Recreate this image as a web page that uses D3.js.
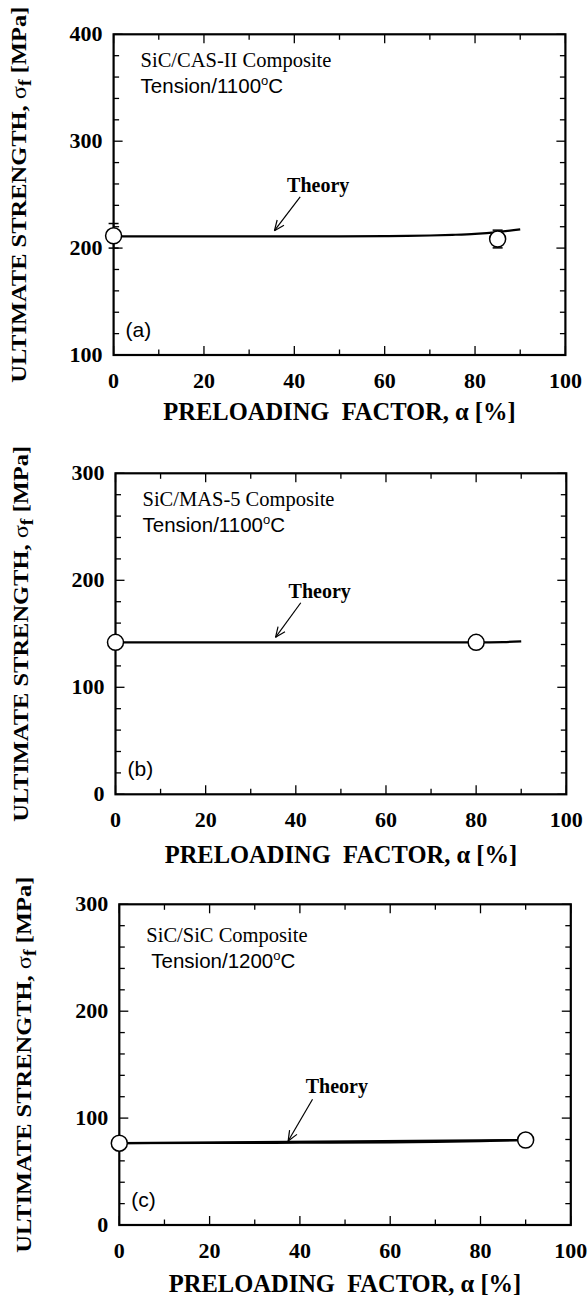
<!DOCTYPE html>
<html>
<head>
<meta charset="utf-8">
<script src="https://cdn.jsdelivr.net/npm/d3@7"></script>
<style>
  html, body { margin: 0; padding: 0; background: #fff; }
  svg { display: block; }
  text { white-space: pre; }
</style>
</head>
<body>
<div id="chart"></div>
<script>
// x axis (preloading factor, %)
const xTicks = [0, 20, 40, 60, 80, 100];

// (a) SiC/CAS-II
const aPreload = [0, 85];
const aStrength = [211.5, 208.5];
const aError = [11.5, 8.3];
const aTheoryX = [0, 10, 20, 30, 40, 50, 60, 65, 70, 75, 80, 85, 90];
const aTheoryY = [211, 211, 211, 211, 211, 211, 211.2, 211.4, 211.8, 212.4, 213.3, 215, 217.6];
const aYTicks = [100, 200, 300, 400];

// (b) SiC/MAS-5
const bPreload = [0, 80];
const bStrength = [142, 142];
const bError = [0, 0];
const bTheoryX = [0, 20, 40, 60, 80, 86, 90];
const bTheoryY = [142, 142, 142, 142, 142, 142.3, 143];
const bYTicks = [0, 100, 200, 300];

// (c) SiC/SiC
const cPreload = [0, 90];
const cStrength = [76.5, 79.5];
const cError = [0, 0];
const cTheoryX = [0, 20, 40, 60, 70, 80, 90];
const cTheoryY = [76.5, 76.7, 77, 77.3, 77.7, 78.4, 79.5];
const cLineX = [0, 90];
const cLineY = [76.5, 79.5];
const cYTicks = [0, 100, 200, 300];

const composites = ["SiC/CAS-II Composite", "SiC/MAS-5 Composite", "SiC/SiC Composite"];
const temperatures = ["1100", "1100", "1200"];
const panelTags = ["(a)", "(b)", "(c)"];
// "Theory" label and arrow [x, y] in data units
const theoryLabel = [[38.4, 252.8], [38.4, 183.2], [41.3, 123.2]];
const arrowTail = [[41.3, 248], [41.1, 179], [42.8, 117.6]];
const arrowTip = [[35.6, 216.3], [35.5, 146.7], [37.4, 78.6]];

const serif = "'Liberation Serif', 'Times New Roman', serif";
const sans = "'Liberation Sans', Arial, sans-serif";

const svg = d3.select("#chart").append("svg")
  .attr("width", 588)
  .attr("height", 1301);

const panels = [
  { left: 113.6, right: 565.4, top: 34.3, bottom: 355, yDomain: [100, 400], yTicks: aYTicks,
    pre: aPreload, str: aStrength, err: aError, lines: [[aTheoryX, aTheoryY]], xTitleY: 420, tension: 0 },
  { left: 115.5, right: 566.3, top: 473.3, bottom: 794.3, yDomain: [0, 300], yTicks: bYTicks,
    pre: bPreload, str: bStrength, err: bError, lines: [[bTheoryX, bTheoryY]], xTitleY: 863, tension: 0 },
  { left: 119.3, right: 570.8, top: 904.3, bottom: 1225, yDomain: [0, 300], yTicks: cYTicks,
    pre: cPreload, str: cStrength, err: cError, lines: [[cTheoryX, cTheoryY], [cLineX, cLineY]], xTitleY: 1291.5, tension: 5 }
];

panels.forEach((p, i) => drawPanel(p, i));

function drawPanel(p, i) {
  const x = d3.scaleLinear().domain([0, 100]).range([p.left, p.right]);
  const y = d3.scaleLinear().domain(p.yDomain).range([p.bottom, p.top]);
  const g = svg.append("g");

  const yStep = (p.yDomain[1] - p.yDomain[0]) / 15; // minor every 20
  const yMinor = d3.range(p.yDomain[0], p.yDomain[1] + 0.001, yStep);
  const xMinor = d3.range(0, 100.001, 10);
  const major = 9, minor = 5.5;

  // inward ticks on all four sides
  xMinor.forEach(v => {
    const len = xTicks.includes(Math.round(v)) ? major : minor;
    g.append("line").attr("x1", x(v)).attr("x2", x(v)).attr("y1", p.bottom).attr("y2", p.bottom - len)
      .attr("stroke", "#000").attr("stroke-width", 1.3);
    g.append("line").attr("x1", x(v)).attr("x2", x(v)).attr("y1", p.top).attr("y2", p.top + len)
      .attr("stroke", "#000").attr("stroke-width", 1.3);
  });
  yMinor.forEach(v => {
    const len = p.yTicks.some(t => Math.abs(t - v) < 0.01) ? major : minor;
    g.append("line").attr("y1", y(v)).attr("y2", y(v)).attr("x1", p.left).attr("x2", p.left + len)
      .attr("stroke", "#000").attr("stroke-width", 1.3);
    g.append("line").attr("y1", y(v)).attr("y2", y(v)).attr("x1", p.right).attr("x2", p.right - len)
      .attr("stroke", "#000").attr("stroke-width", 1.3);
  });

  g.append("rect")
    .attr("x", p.left).attr("y", p.top)
    .attr("width", p.right - p.left).attr("height", p.bottom - p.top)
    .attr("fill", "none").attr("stroke", "#000").attr("stroke-width", 2.2);

  // tick labels
  g.selectAll(".xl").data(xTicks).enter().append("text")
    .attr("x", d => x(d)).attr("y", p.bottom + 33)
    .attr("text-anchor", "middle")
    .attr("font-family", serif).attr("font-weight", "bold").attr("font-size", 22)
    .text(d => d);
  g.selectAll(".yl").data(p.yTicks).enter().append("text")
    .attr("x", p.left - 11).attr("y", d => y(d) + 7)
    .attr("text-anchor", "end")
    .attr("font-family", serif).attr("font-weight", "bold").attr("font-size", 22)
    .text(d => d);

  // axis titles
  g.append("text")
    .attr("x", (p.left + p.right) / 2).attr("y", p.xTitleY)
    .attr("text-anchor", "middle")
    .attr("font-family", serif).attr("font-weight", "bold").attr("font-size", 24.5)
    .text("PRELOADING  FACTOR, α [%]");

  const yt = g.append("text")
    .attr("transform", `translate(${p.left - 88},${(p.top + p.bottom) / 2}) rotate(-90)`)
    .attr("text-anchor", "middle")
    .attr("font-family", serif).attr("font-weight", "bold").attr("font-size", 22)
    .attr("textLength", 376).attr("lengthAdjust", "spacingAndGlyphs");
  yt.append("tspan").text("ULTIMATE STRENGTH, ");
  yt.append("tspan").attr("font-weight", "normal").text("σ");
  yt.append("tspan").attr("dy", 5).attr("font-size", 18).text("f");
  yt.append("tspan").attr("dy", -5).text(" [MPa]");

  // theory curves
  const line = d3.line().x(d => x(d[0])).y(d => y(d[1])).curve(d3.curveMonotoneX);
  p.lines.forEach(([lx, ly]) => {
    g.append("path")
      .datum(lx.map((v, k) => [v, ly[k]]))
      .attr("d", line)
      .attr("fill", "none").attr("stroke", "#000").attr("stroke-width", 2.2);
  });

  // data points with error bars
  const pts = p.pre.map((v, k) => ({ x: v, y: p.str[k], e: p.err[k] }));
  pts.filter(d => d.e > 0).forEach(d => {
    g.append("line").attr("x1", x(d.x)).attr("x2", x(d.x)).attr("y1", y(d.y - d.e)).attr("y2", y(d.y + d.e))
      .attr("stroke", "#000").attr("stroke-width", 1.5);
    [d.y - d.e, d.y + d.e].forEach(v => {
      g.append("line").attr("x1", x(d.x) - 5).attr("x2", x(d.x) + 5).attr("y1", y(v)).attr("y2", y(v))
        .attr("stroke", "#000").attr("stroke-width", 1.5);
    });
  });
  g.selectAll(".pt").data(pts).enter().append("circle")
    .attr("cx", d => x(d.x)).attr("cy", d => y(d.y)).attr("r", 8)
    .attr("fill", "#fff").attr("stroke", "#000").attr("stroke-width", 1.5);

  // annotations
  g.append("text")
    .attr("x", p.left + 27).attr("y", p.top + 33 + (i === 2 ? 5 : 0))
    .attr("font-family", serif).attr("font-size", 20.5)
    .text(composites[i]);
  const tt = g.append("text")
    .attr("x", p.left + 27 + p.tension).attr("y", p.top + 59 + (i === 2 ? 5 : 0))
    .attr("font-family", sans).attr("font-size", 20.5);
  tt.append("tspan").text("Tension/" + temperatures[i]);
  tt.append("tspan").attr("dy", -8).attr("font-size", 13).text("o");
  tt.append("tspan").attr("dy", 8).text("C");

  g.append("text")
    .attr("x", p.left + 12).attr("y", p.bottom - 18)
    .attr("font-family", sans).attr("font-size", 21)
    .text(panelTags[i]);

  g.append("text")
    .attr("x", x(theoryLabel[i][0])).attr("y", y(theoryLabel[i][1]))
    .attr("font-family", serif).attr("font-weight", "bold").attr("font-size", 20)
    .text("Theory");

  const x0 = x(arrowTail[i][0]), y0 = y(arrowTail[i][1]);
  const x1 = x(arrowTip[i][0]), y1 = y(arrowTip[i][1]);
  g.append("line").attr("x1", x0).attr("y1", y0).attr("x2", x1).attr("y2", y1)
    .attr("stroke", "#000").attr("stroke-width", 1.2);
  const ang = Math.atan2(y0 - y1, x0 - x1);
  [-0.4, 0.4].forEach(da => {
    g.append("line").attr("x1", x1).attr("y1", y1)
      .attr("x2", x1 + 11 * Math.cos(ang + da)).attr("y2", y1 + 11 * Math.sin(ang + da))
      .attr("stroke", "#000").attr("stroke-width", 1.2);
  });
}
</script>
</body>
</html>
